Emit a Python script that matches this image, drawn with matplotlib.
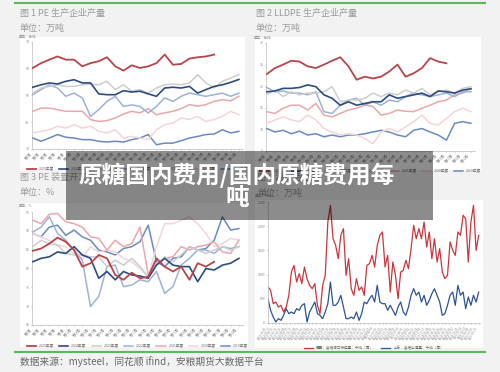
import numpy as np
import pandas as pd
import matplotlib; matplotlib.use('Agg')
import matplotlib.pyplot as plt
from matplotlib.patches import Rectangle

plt.rcParams['font.family'] = ['Noto Sans CJK SC', 'DejaVu Sans']
plt.rcParams['axes.unicode_minus'] = False

W, H = 500, 372

# ---- data ----
years = ['2025年度', '2024年度', '2023年度', '2022年度', '2021年度', '2020年度', '2019年度']
weeks = list(range(1, 52, 2))
week_labels = [f'第{w}周' for w in weeks]

pe_2025 = [60.3, 62.1, 63.4, 64.6, 63.4, 63.4, 60.9, 62.1, 62.8, 64.3, 60.9, 59.3, 61.3, 60.3, 60.9, 62.1, 65.3, 61.5, 61.8, 63.8, 64.3, 64.6, 65.3]
pe_2024 = [53.1, 54.0, 54.7, 54.3, 55.3, 55.9, 54.7, 54.7, 50.6, 50.3, 50.3, 51.8, 51.3, 51.6, 50.6, 49.7, 52.8, 53.1, 52.8, 53.4, 50.9, 52.2, 53.4, 54.0, 54.9, 56.0]
pe_2023 = [50.9, 52.8, 53.4, 54.0, 53.4, 53.4, 54.0, 54.3, 54.0, 55.3, 52.2, 54.0, 51.6, 52.2, 50.9, 52.8, 54.0, 54.3, 54.0, 54.7, 57.8, 54.7, 52.8, 55.3, 56.5, 57.8]
pe_2022 = [50.3, 52.2, 54.0, 52.8, 49.7, 50.9, 49.1, 42.2, 44.7, 47.8, 49.7, 45.9, 46.5, 45.9, 43.5, 45.9, 49.1, 47.8, 49.7, 50.9, 50.3, 49.7, 50.3, 50.9, 49.7, 50.9]
pe_2021 = [44.1, 45.3, 45.3, 44.7, 44.1, 44.1, 44.1, 41.0, 40.3, 40.6, 41.6, 43.1, 44.1, 43.5, 45.1, 42.8, 43.5, 44.1, 45.1, 46.6, 46.0, 46.6, 47.8, 48.4, 48.0, 49.7]
pe_2020 = [36.0, 36.6, 37.2, 38.5, 37.8, 39.1, 37.8, 38.5, 36.6, 36.0, 37.2, 34.1, 34.7, 34.1, 33.5, 37.2, 39.1, 39.7, 41.6, 41.0, 42.2, 40.3, 41.0, 42.2, 44.1, 42.8]
pe_2019 = [34.1, 32.9, 34.1, 35.4, 34.4, 34.1, 33.5, 33.5, 32.9, 32.6, 32.9, 32.6, 33.5, 34.1, 35.4, 31.6, 32.2, 32.2, 33.1, 34.1, 34.7, 35.4, 35.6, 37.2, 36.0, 36.6]

ll_2025 = [22.8, 24.2, 25.0, 25.9, 25.7, 24.6, 24.2, 25.0, 25.9, 26.7, 24.6, 21.5, 22.2, 21.8, 22.2, 23.4, 25.0, 22.2, 23.0, 24.2, 26.5, 25.7, 25.3]
ll_2024 = [18.7, 18.9, 19.5, 19.5, 19.7, 20.3, 19.9, 18.0, 17.2, 15.6, 16.4, 15.6, 16.0, 16.4, 16.4, 18.0, 17.2, 17.6, 18.0, 18.4, 17.6, 18.9, 18.7, 18.4, 19.1, 19.4]
ll_2023 = [18.1, 19.1, 17.6, 18.7, 18.0, 18.4, 18.4, 18.7, 19.9, 16.4, 16.8, 16.8, 17.2, 18.4, 17.6, 18.4, 18.0, 19.1, 18.4, 19.5, 18.0, 18.7, 19.1, 18.4, 19.5, 19.9]
ll_2022 = [19.7, 18.7, 18.9, 18.4, 18.4, 18.0, 18.7, 14.1, 13.7, 15.6, 16.8, 17.2, 15.6, 16.4, 15.6, 16.8, 16.4, 17.6, 18.4, 18.0, 17.6, 18.0, 18.4, 17.6, 18.7, 18.7]
ll_2021 = [14.1, 13.7, 14.9, 15.6, 15.6, 14.5, 16.0, 13.3, 12.9, 13.7, 14.5, 14.9, 15.6, 15.3, 13.3, 13.7, 14.5, 14.2, 14.1, 14.9, 15.6, 16.4, 16.8, 18.0, 18.4, 19.5]
ll_2020 = [11.4, 12.2, 12.9, 12.2, 11.8, 13.3, 12.2, 10.2, 9.4, 8.7, 9.0, 8.7, 7.9, 6.7, 9.4, 10.2, 9.4, 10.6, 11.8, 13.3, 11.4, 11.0, 12.5, 14.1, 14.9, 14.1]
ll_2019 = [10.2, 9.4, 9.8, 9.0, 9.6, 8.7, 9.0, 8.3, 8.7, 8.3, 8.7, 8.7, 9.0, 9.4, 9.8, 9.4, 8.7, 8.3, 9.8, 10.2, 9.4, 8.7, 7.5, 11.4, 11.8, 11.4]

op_2025 = [84.7, 85.3, 86.6, 88.2, 87.1, 84.9, 80.5, 81.4, 83.6, 82.7, 78.3, 77.0, 78.9, 77.4, 77.8, 82.7, 80.5, 79.2, 80.5, 77.0, 81.4, 80.5, 81.8]
op_2024 = [81.8, 82.7, 83.1, 84.4, 84.0, 85.8, 83.6, 82.7, 77.4, 79.2, 77.0, 79.2, 78.3, 78.0, 77.4, 80.9, 82.7, 80.9, 80.5, 80.5, 76.5, 80.0, 79.6, 80.9, 81.4, 82.7]
op_2023 = [85.8, 87.5, 86.6, 86.2, 84.0, 83.6, 83.6, 83.1, 83.1, 80.5, 82.2, 80.9, 82.7, 80.5, 77.8, 80.9, 83.1, 81.8, 83.6, 85.8, 84.9, 84.0, 84.9, 85.8, 84.9, 85.8]
op_2022 = [89.7, 91.0, 93.7, 89.3, 87.5, 84.9, 82.2, 69.9, 72.6, 80.5, 80.9, 75.2, 75.6, 77.0, 76.5, 79.2, 73.4, 75.2, 80.9, 82.7, 84.9, 84.9, 84.0, 85.8, 85.3, 85.8]
op_2021 = [92.8, 91.9, 94.4, 94.6, 92.4, 91.9, 91.0, 88.4, 88.0, 84.9, 87.5, 85.8, 86.6, 91.0, 78.3, 81.4, 82.7, 83.1, 85.8, 84.9, 85.8, 86.2, 87.1, 84.4, 84.0, 87.5]
op_2020 = [89.3, 88.4, 87.5, 86.2, 85.8, 84.0, 82.7, 85.8, 84.4, 84.9, 84.4, 82.7, 81.8, 80.0, 77.8, 85.8, 91.9, 91.9, 92.8, 93.7, 91.9, 89.3, 85.8, 86.6, 88.0, 87.5]
op_2019 = [89.3, 88.4, 91.0, 91.5, 88.8, 90.2, 88.4, 87.5, 84.9, 84.4, 83.6, 85.3, 85.8, 87.1, 91.5, 81.8, 80.5, 82.7, 83.1, 85.8, 84.9, 85.3, 87.5, 93.7, 90.2, 90.6]

port_red = [744, 675, 399, 434, 331, 365, 227, 331, 572, 1054,
            1191, 847, 1019, 813, 1157, 916, 778, 709, 813, 365,
            193, 778, 985, 2087, 2431, 1742, 1605, 1329, 1811, 1949,
            985, 1329, 709, 572, 916, 675, 744, 572, 1191, 1226,
            1398, 1157, 1605, 1811, 1880, 1157, 1398, 640, 1260, 985,
            503, 1054, 1088, 1295, 1123, 1536, 2018, 1742, 1949, 1742,
            2087, 1570, 1880, 1329, 1742, 1260, 1536, 1054, 916, 985,
            1674, 1501, 1398, 1880, 1811, 2225, 2156, 1260, 2087, 2431,
            1501, 1811]
port_blue = [503, 262, 124, 21, 90, 55, 158, 296, 193, 227,
             193, 296, 262, 365, 399, 21, 227, 331, 434, 193,
             158, 90, 227, 399, 847, 365, 365, 434, 572, 331,
             90, 90, 124, 90, 227, 55, 193, 434, 399, 503,
             572, 434, 778, 434, 399, 399, 262, 365, 262, 158,
             331, 434, 227, 158, 331, 572, 709, 572, 640, 434,
             572, 365, 468, 606, 709, 572, 434, 158, 193, 365,
             572, 640, 365, 778, 572, 640, 296, 537, 365, 572,
             434, 640]
port_names = ['巴西：食糖港口待运量：千吨（周）', '山东：食糖出港量：千吨（周）']
port_dates = pd.date_range('2019-01-04', periods=58, freq='6W').strftime('%Y-%m-%d').tolist()

COLORS = ['#b6454b', '#2c4c7e', '#cdcdcd', '#9db2d2', '#e9a7ad', '#f3d5d8', '#6a8abd']
LW = [1.3, 1.2, 1.1, 1.1, 1.1, 1.1, 1.1]

def rect(l, t, r, b):
    return [l / W, 1 - b / H, (r - l) / W, (b - t) / H]

fig = plt.figure(figsize=(W / 100, H / 100), dpi=100, facecolor='#f2f2f2')

# white panels
for l, t, r, b in [(20, 37, 245, 170), (255, 37, 481, 170), (20, 203, 248, 347), (255, 200, 483, 348)]:
    fig.patches.append(Rectangle((l / W, 1 - b / H), (r - l) / W, (b - t) / H,
                                 transform=fig.transFigure, facecolor='white', edgecolor='none', zorder=-1))

# green rules
for y in [3, 352]:
    fig.add_artist(plt.Line2D([15 / W, 485 / W], [1 - y / H] * 2, color='#5cb85c', lw=1.5))

def style(ax, unit):
    for s in ['top', 'right']:
        ax.spines[s].set_visible(False)
    for s in ['left', 'bottom']:
        ax.spines[s].set_color('#bbbbbb'); ax.spines[s].set_linewidth(0.5)
    ax.tick_params(labelsize=2.5, colors='#888888', length=1, width=0.4, pad=1)
    ax.text(-0.06, 1.04, unit, transform=ax.transAxes, fontsize=2.5, color='#888888')

def seasonal(box, series, ylim, ystep, unit, leg_y):
    ax = fig.add_axes(rect(*box))
    lines = []
    for i, vals in enumerate(series):
        ln, = ax.plot(weeks[:len(vals)], vals, color=COLORS[i], lw=LW[i], zorder=10 - i,
                      solid_joinstyle='round')
        lines.append(ln)
    ax.set_xlim(0.8, 52)
    ax.set_ylim(*ylim)
    ax.set_yticks(np.arange(ylim[0], ylim[1] + 0.1, ystep))
    ax.set_xticks(weeks)
    ax.set_xticklabels(week_labels, rotation=45, ha='right')
    style(ax, unit)
    ax.legend(lines, years, loc='upper center', bbox_to_anchor=(0.5, leg_y), ncol=7,
              fontsize=2.6, frameon=False, handlelength=2.5, columnspacing=1.5,
              labelcolor='#666666')
    return ax

seasonal((32, 42, 243, 149), [pe_2025, pe_2024, pe_2023, pe_2022, pe_2021, pe_2020, pe_2019],
         (30, 70), 10, '单位：万吨', -0.14)
seasonal((266, 43, 475, 151), [ll_2025, ll_2024, ll_2023, ll_2022, ll_2021, ll_2020, ll_2019],
         (5, 30), 5, '单位：万吨', -0.14)
seasonal((32, 212, 243, 325), [op_2025, op_2024, op_2023, op_2022, op_2021, op_2020, op_2019],
         (65, 95), 5, '单位：%', -0.14)

ax4 = fig.add_axes(rect(268, 202, 480, 323))
l1, = ax4.plot(range(len(port_red)), port_red, color='#c9363e', lw=0.9)
l2, = ax4.plot(range(len(port_blue)), port_blue, color='#2d5391', lw=0.9)
ax4.set_xlim(0, len(port_red) - 0.5)
ax4.set_ylim(0, 2500)
ax4.set_yticks(np.arange(0, 2501, 500))
ax4.set_xticks(np.linspace(0, len(port_red) - 1, len(port_dates)))
ax4.set_xticklabels(port_dates, rotation=60, ha='right')
style(ax4, '单位：千吨')
ax4.tick_params(axis='x', labelsize=2)
ax4.legend([l1, l2], port_names, loc='upper center', bbox_to_anchor=(0.5, -0.16), ncol=2,
           fontsize=2.6, frameon=False, handlelength=2.5, labelcolor='#666666')

# panel titles
tc = '#999999'
fig.text(20 / W, 1 - 13 / H, '图 1 PE 生产企业产量', fontsize=6.5, color=tc, va='center')
fig.text(20 / W, 1 - 28 / H, '单位：万吨', fontsize=6.5, color=tc, va='center')
fig.text(256 / W, 1 - 13 / H, '图 2 LLDPE 生产企业产量', fontsize=6.5, color=tc, va='center')
fig.text(256 / W, 1 - 28 / H, '单位：万吨', fontsize=6.5, color=tc, va='center')
fig.text(20 / W, 1 - 177 / H, '图 3 PE 装置开工率', fontsize=6.5, color=tc, va='center')
fig.text(20 / W, 1 - 193 / H, '单位：%', fontsize=6.5, color=tc, va='center')
fig.text(257 / W, 1 - 177 / H, '图 4 港口待运量', fontsize=6.5, color=tc, va='center')
fig.text(257 / W, 1 - 193 / H, '单位：万吨', fontsize=6.5, color=tc, va='center')

fig.text(20 / W, 1 - 362 / H, '数据来源：mysteel，同花顺 ifind，安粮期货大数据平台',
         fontsize=7, color='#666666', va='center')

# overlay banner
fig.patches.append(Rectangle((66 / W, 1 - 220 / H), (433 - 66) / W, (220 - 151) / H,
                             transform=fig.transFigure, facecolor='black', alpha=0.45,
                             edgecolor='none', zorder=20))
fig.text(237 / W, 1 - 175 / H, '原糖国内费用/国内原糖费用每', fontsize=17, color='white',
         fontweight='bold', ha='center', va='center', zorder=21)
fig.text(237 / W, 1 - 198 / H, '吨', fontsize=17, color='white',
         fontweight='bold', ha='center', va='center', zorder=21)

fig.savefig('out.png', dpi=100, facecolor=fig.get_facecolor())
